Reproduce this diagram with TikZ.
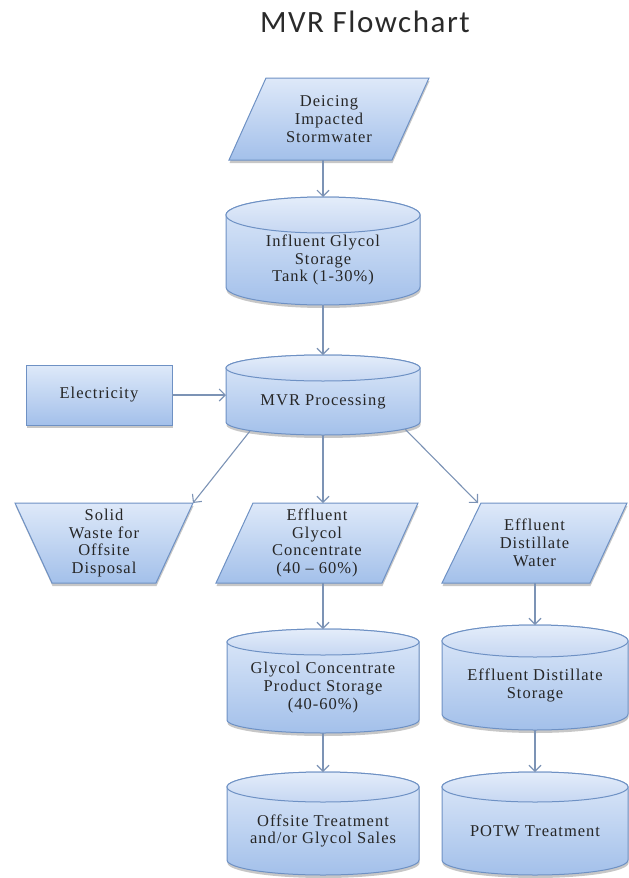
\documentclass[tikz,border=0pt]{standalone}
\usepackage{fontspec}
\setmainfont{Liberation Serif}[LetterSpace=6]
\newfontfamily\titlefont{Carlito}[LetterSpace=5]
\usetikzlibrary{arrows.meta,shadows}

\definecolor{fillT}{HTML}{DEE9F9}
\definecolor{fillB}{HTML}{A3C0EA}
\definecolor{lidT}{HTML}{E4EDFA}
\definecolor{lidB}{HTML}{C6D7F2}
\definecolor{edgec}{HTML}{6E91C4}
\definecolor{arrowc}{HTML}{7C93B5}
\definecolor{titlec}{HTML}{2A2A2A}

\tikzset{
  block/.style={draw=edgec, line width=1pt, top color=fillT, bottom color=fillB,
    drop shadow={shadow xshift=0.5pt, shadow yshift=-3pt, opacity=0.22, fill=black}},
  lid/.style={draw=edgec, line width=1pt, top color=lidT, bottom color=lidB},
  frame/.style={rectangle, inner sep=0pt, outer sep=0pt},
  txt/.style={align=center, inner sep=0pt, text=black!85,
    font=\fontsize{16.5}{17.8}\selectfont},
  flow/.style={draw=arrowc, line width=1.1pt, -{Straight Barb[length=6pt,width=12pt]}},
}

% storage tank: name, centre x, top y, bottom y, x radius, y radius, text
\newcommand\drawtank[7]{%
  \pgfmathsetmacro\tkL{#2-(#5)}%
  \pgfmathsetmacro\tkR{#2+(#5)}%
  \pgfmathsetmacro\tkT{-(#3)-(#6)}%
  \pgfmathsetmacro\tkB{-(#4)+(#6)}%
  \pgfmathsetmacro\tkC{-((#3)+(#4))/2}%
  \pgfmathsetmacro\tkH{(#4)-(#3)}%
  \pgfmathsetmacro\tkW{2*(#5)}%
  \pgfmathsetmacro\tkY{-((#3)+(#6)+(#4))/2}%
  \path[block] (\tkL,\tkT) -- (\tkL,\tkB)
    arc[start angle=180,end angle=360,x radius=#5,y radius=#6] -- (\tkR,\tkT)
    arc[start angle=0,end angle=180,x radius=#5,y radius=#6] -- cycle;
  \path[lid] (#2,\tkT) ellipse[x radius=#5,y radius=#6];
  \node[frame, minimum width=\tkW pt, minimum height=\tkH pt] (#1) at (#2,\tkC) {};
  \node[txt] (#1-text) at (#2,\tkY) {#7};
}

% four-cornered box: name, top y, bottom y, top-left x, top-right x,
% bottom-right x, bottom-left x, text
\newcommand\drawquad[8]{%
  \pgfmathsetmacro\qL{min(#4,#7)}%
  \pgfmathsetmacro\qR{max(#5,#6)}%
  \pgfmathsetmacro\qW{\qR-\qL}%
  \pgfmathsetmacro\qH{(#3)-(#2)}%
  \pgfmathsetmacro\qX{(\qL+\qR)/2}%
  \pgfmathsetmacro\qY{-((#2)+(#3))/2}%
  \path[block] (#4,-#2) -- (#5,-#2) -- (#6,-#3) -- (#7,-#3) -- cycle;
  \node[frame, txt, minimum width=\qW pt, minimum height=\qH pt] (#1) at (\qX,\qY) {#8};
}

\begin{document}
\begin{tikzpicture}[x=1pt,y=1pt]
  \useasboundingbox (0,0) rectangle (629,-878);

  \node[font=\titlefont\fontsize{31}{34}\selectfont, text=titlec, anchor=base]
    (title) at (365,-32) {MVR Flowchart};

  % inputs and processing
  \drawquad{deice}{78}{160}{266}{429}{392}{229}{Deicing\\Impacted\\Stormwater}
  \drawtank{infl}{323}{197}{305}{97}{18}{Influent Glycol\\Storage\\Tank (1-30\%)}
  \drawtank{mvr}{323}{355}{435}{97}{13}{MVR Processing}
  \node[block, frame, txt, minimum width=146pt, minimum height=60pt]
    (elec) at (99,-395) {Electricity};

  % outputs of the evaporator
  \drawquad{solid}{503}{583}{15}{193}{156}{52}{Solid\\Waste for\\Offsite\\Disposal}
  \drawquad{glyc}{503}{583}{253}{418}{382}{216}{Effluent\\Glycol\\Concentrate\\(40 -- 60\%)}
  \drawquad{water}{503}{583}{481}{627}{590}{442}{Effluent\\Distillate\\Water}

  % storage and final destinations
  \drawtank{gstore}{323}{629}{733}{96}{13}{Glycol Concentrate\\Product Storage\\(40-60\%)}
  \drawtank{dstore}{535}{625}{730}{93}{16}{Effluent Distillate\\Storage}
  \drawtank{offsite}{323}{772}{875}{96}{15}{Offsite Treatment\\and/or Glycol Sales}
  \drawtank{potw}{535}{772}{875}{93}{15}{POTW Treatment}

  % connectors
  \draw[flow] (deice.south -| infl.north) -- (infl.north);
  \draw[flow] (infl.south) -- (mvr.north);
  \draw[flow] (elec.east) -- (mvr.west);
  \draw[flow] ([xshift=24pt,yshift=4pt]mvr.south west) -- (solid.north east);
  \draw[flow] (mvr.south) -- (mvr.south |- glyc.north);
  \draw[flow] ([xshift=-15pt,yshift=6pt]mvr.south east) -- ([xshift=36pt]water.north west);
  \draw[flow] (glyc.south -| gstore.north) -- (gstore.north);
  \draw[flow] (water.south -| dstore.north) -- (dstore.north);
  \draw[flow] (gstore.south) -- (offsite.north);
  \draw[flow] (dstore.south) -- (potw.north);
\end{tikzpicture}
\end{document}
